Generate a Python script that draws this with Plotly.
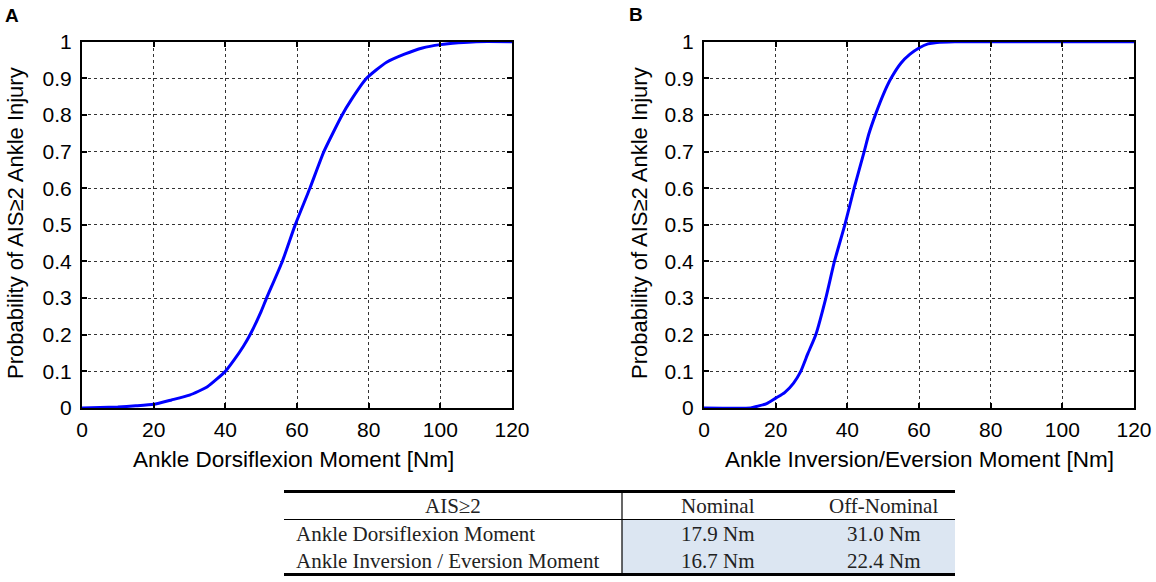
import plotly.graph_objects as go

W, H = 1156, 582

# Panel A data: ankle dorsiflexion moment vs probability
dorsi_x = [0, 10, 15, 20, 25, 30, 35, 40, 42.5, 45, 46.9, 50, 51.5, 55.9, 59.5, 63.6,
           67.5, 72.6, 75, 79.4, 82, 85, 90, 95, 100, 105, 110, 120]
dorsi_p = [0, 0.003, 0.006, 0.01, 0.022, 0.035, 0.058, 0.1, 0.132, 0.168, 0.2, 0.264,
           0.3, 0.4, 0.5, 0.6, 0.7, 0.8, 0.839, 0.9, 0.922, 0.944, 0.966, 0.983, 0.992,
           0.997, 1, 1]

# Panel B data: ankle inversion/eversion moment vs probability
inv_x = [0, 13, 15, 17.5, 20, 22.5, 25, 27, 29, 31.2, 34, 36.4, 39.3, 41.9, 44.7, 46,
         48, 50, 52.2, 55, 57.5, 60, 62.5, 65, 70, 120]
inv_p = [0, 0, 0.005, 0.012, 0.027, 0.042, 0.068, 0.1, 0.149, 0.2, 0.3, 0.4, 0.5, 0.6,
         0.7, 0.748, 0.805, 0.855, 0.9, 0.942, 0.966, 0.983, 0.994, 0.998, 1, 1]

x_ticks = [0, 20, 40, 60, 80, 100, 120]
y_ticks = [0, 0.1, 0.2, 0.3, 0.4, 0.5, 0.6, 0.7, 0.8, 0.9, 1]
y_tick_text = ["0", "0.1", "0.2", "0.3", "0.4", "0.5", "0.6", "0.7", "0.8", "0.9", "1"]

x_title_a = "Ankle Dorsiflexion Moment [Nm]"
x_title_b = "Ankle Inversion/Eversion Moment [Nm]"
y_title = "Probability of AIS≥2 Ankle Injury"

table_header = ["AIS≥2", "Nominal", "Off-Nominal"]
table_rows = ["Ankle Dorsiflexion Moment", "Ankle Inversion / Eversion Moment"]
table_nominal = ["17.9 Nm", "16.7 Nm"]
table_offnominal = ["31.0 Nm", "22.4 Nm"]


def px(x):
    return x / W


def py(y):
    return 1 - y / H


fig = go.Figure()
fig.add_trace(go.Scatter(x=dorsi_x, y=dorsi_p, mode="lines",
                         line=dict(color="#0000ff", width=3, shape="spline", smoothing=0.5),
                         xaxis="x", yaxis="y", showlegend=False, cliponaxis=True))
fig.add_trace(go.Scatter(x=inv_x, y=inv_p, mode="lines",
                         line=dict(color="#0000ff", width=3, shape="spline", smoothing=0.5),
                         xaxis="x2", yaxis="y2", showlegend=False, cliponaxis=True))

font_sans = "Arial, Liberation Sans, sans-serif"
font_serif = "Times New Roman, Liberation Serif, serif"

plot_top, plot_bot = 41.7, 408
ax_common = dict(showline=True, linewidth=2.2, linecolor="black", mirror="ticks",
                 ticks="inside", ticklen=5, tickwidth=1.5, tickcolor="black",
                 showgrid=True, gridcolor="#333333", gridwidth=1, griddash="dot",
                 zeroline=False, automargin=False,
                 tickfont=dict(family=font_sans, size=21, color="black"))

fig.update_layout(
    width=W, height=H, autosize=False,
    margin=dict(l=0, r=0, t=0, b=0, pad=0),
    paper_bgcolor="white", plot_bgcolor="white",
    xaxis=dict(domain=[px(82), px(512)], range=[0, 120], tickvals=x_ticks,
               anchor="y", ticklabelstandoff=2, **ax_common),
    yaxis=dict(domain=[py(plot_bot), py(plot_top)], range=[0, 1], tickvals=y_ticks,
               ticktext=y_tick_text, anchor="x", ticklabelstandoff=4, **ax_common),
    xaxis2=dict(domain=[px(704), px(1134)], range=[0, 120], tickvals=x_ticks,
                anchor="y2", ticklabelstandoff=2, **ax_common),
    yaxis2=dict(domain=[py(plot_bot), py(plot_top)], range=[0, 1], tickvals=y_ticks,
                ticktext=y_tick_text, anchor="x2", ticklabelstandoff=4, **ax_common),
)


def text_at(x, y, text, font, xanchor="center", angle=0):
    return dict(x=px(x), y=py(y), text=text, showarrow=False, xref="paper",
                yref="paper", xanchor=xanchor, yanchor="middle", textangle=angle,
                font=font)


lab_font = dict(family=font_sans, size=19, color="black")
title_font = dict(family=font_sans, size=22.5, color="black")
ytitle_font = dict(family=font_sans, size=22, color="black")
tfont = dict(family=font_serif, size=21, color="#222222")

ann = [
    text_at(12, 15, "<b>A</b>", lab_font),
    text_at(636, 14, "<b>B</b>", lab_font),
    text_at(293, 459, x_title_a, title_font),
    text_at(919, 459, x_title_b, title_font),
    text_at(16, 223, y_title, ytitle_font, angle=-90),
    text_at(640, 223, y_title, ytitle_font, angle=-90),
    text_at(453, 506, table_header[0], tfont),
    text_at(718, 506, table_header[1], tfont),
    text_at(884, 506, table_header[2], tfont),
]
row_y = [534, 561]
for i in range(len(table_rows)):
    ann.append(text_at(294, row_y[i], table_rows[i], tfont, xanchor="left"))
    ann.append(text_at(718, row_y[i], table_nominal[i], tfont))
    ann.append(text_at(884, row_y[i], table_offnominal[i], tfont))
fig.update_layout(annotations=ann)

shapes = []
# blue fill
shapes.append(dict(type="rect", xref="paper", yref="paper", x0=px(622), x1=px(955),
                   y0=py(573), y1=py(520), fillcolor="#dce6f2", line=dict(width=0),
                   layer="below"))
# lines
shapes.append(dict(type="line", xref="paper", yref="paper", x0=px(284), x1=px(955),
                   y0=py(491.5), y1=py(491.5), line=dict(color="black", width=3)))
shapes.append(dict(type="line", xref="paper", yref="paper", x0=px(284), x1=px(955),
                   y0=py(519.5), y1=py(519.5), line=dict(color="black", width=1.2)))
shapes.append(dict(type="line", xref="paper", yref="paper", x0=px(284), x1=px(955),
                   y0=py(574.5), y1=py(574.5), line=dict(color="black", width=3)))
shapes.append(dict(type="line", xref="paper", yref="paper", x0=px(622), x1=px(622),
                   y0=py(491), y1=py(575), line=dict(color="black", width=1.2)))
fig.update_layout(shapes=shapes)

fig.write_html("out.html", config={"displayModeBar": False},
               post_script="document.body.style.margin='0';document.body.style.overflow='hidden';")
